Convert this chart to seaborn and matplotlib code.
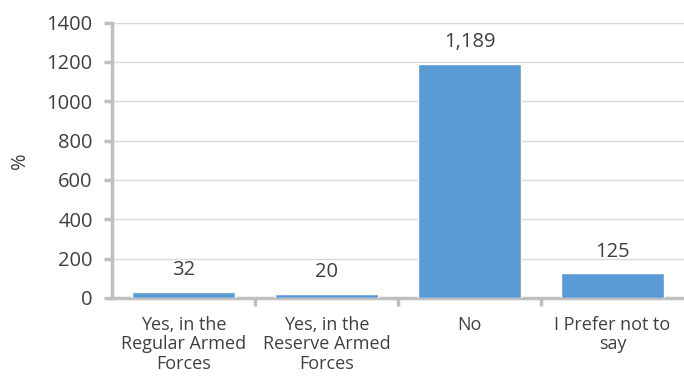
import matplotlib
matplotlib.use('Agg')
import matplotlib.pyplot as plt
import seaborn as sns
import pandas as pd

# data
categories = ['Yes, in the\nRegular Armed\nForces', 'Yes, in the\nReserve Armed\nForces', 'No', 'I Prefer not to\nsay']
values = [32, 20, 1189, 125]
value_labels = ['32', '20', '1,189', '125']

sns.set_style('white')
plt.rcParams['font.family'] = ['Open Sans', 'DejaVu Sans']

df = pd.DataFrame({'cat': categories, 'val': values})

fig = plt.figure(figsize=(6.84, 3.88), dpi=100)
ax = fig.add_axes([0.164, 0.232, 0.836, 0.71])

sns.barplot(data=df, x='cat', y='val', color='#5B9BD5', width=0.72, ax=ax, zorder=3, saturation=1)

for i, (v, lab) in enumerate(zip(values, value_labels)):
    ax.text(i, v + 60, lab, ha='center', va='bottom', fontsize=14.5, color='#404040')

ax.set_ylim(0, 1400)
ax.set_yticks(range(0, 1401, 200))
ax.set_xlim(-0.5, 3.5)
ax.yaxis.grid(True, color='#D9D9D9', linewidth=1, zorder=0)
ax.set_xlabel('')
ax.set_ylabel('%', fontsize=14.5, color='#404040', labelpad=12)

for s in ['top', 'right']:
    ax.spines[s].set_visible(False)
for s in ['left', 'bottom']:
    ax.spines[s].set_color('#BFBFBF')
    ax.spines[s].set_linewidth(2.5)

ax.tick_params(axis='y', labelsize=14.5, colors='#404040', length=6, width=2.5, color='#BFBFBF', left=True, pad=8)
ax.tick_params(axis='x', labelsize=13, colors='#404040', length=0, pad=13)
ax.set_xticks([0.5, 1.5, 2.5], minor=True)
ax.tick_params(axis='x', which='minor', length=6, width=2.5, color='#BFBFBF', bottom=True)
for t in ax.get_xticklabels():
    t.set_linespacing(1.1)

plt.savefig('out.png', dpi=100)
plt.close()
